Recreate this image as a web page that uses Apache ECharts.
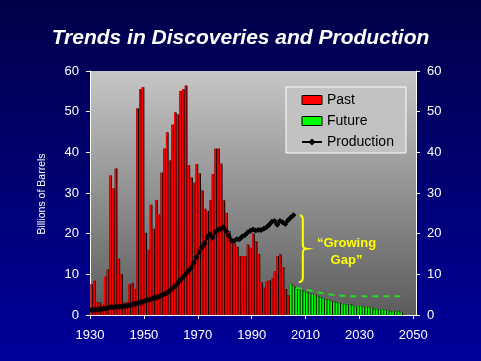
<!DOCTYPE html>
<html><head><meta charset="utf-8">
<script src="https://cdn.jsdelivr.net/npm/echarts@6/dist/echarts.min.js"></script>
<style>html,body{margin:0;padding:0;background:#000070}#c{width:481px;height:361px}</style>
</head><body><div id="c"></div>
<script>
const firstYear = 1930;
const pastValues = [
  7.6, 8.4, 3.1, 3.1, 2.5, 9.4, 11.2, 34.3, 31.1, 36.0,
  13.8, 10.1, 3.0, 3.1, 7.6, 7.9, 6.4, 50.8, 55.5, 56.0,
  20.2, 16.0, 27.1, 21.2, 28.3, 24.7, 35.0, 40.9, 44.9, 38.0,
  46.8, 49.8, 49.3, 55.1, 55.5, 56.4, 36.8, 33.8, 32.5, 37.1,
  34.8, 30.6, 26.1, 25.6, 28.2, 34.6, 40.9, 40.9, 37.2, 28.2,
  25.1, 20.6, 17.9, 17.5, 16.8, 14.5, 14.5, 14.5, 17.3, 16.5,
  20.0, 18.1, 15.0, 8.1, 6.7, 8.2, 8.5, 9.1, 10.7, 14.5,
  14.9, 11.8, 6.4, 4.8
];
const futureStartYear = 2004;
const futureValues = [
  7.6, 7.1, 6.7, 6.3, 6.1, 5.7, 5.6, 5.3, 5.1, 4.9,
  4.6, 4.35, 4.1, 3.9, 3.7, 3.5, 3.3, 3.0, 3.0, 2.7,
  2.6, 2.6, 2.6, 2.3, 2.2, 2.2, 2.2, 2.0, 2.0, 1.8,
  1.8, 1.4, 1.4, 1.4, 1.4, 1.15, 1.15, 0.9, 0.9, 0.9,
  0.9, 0.65
];
const productionValues = [
  1.2, 1.2, 1.3, 1.4, 1.5, 1.6, 1.7, 1.9, 1.9, 2.0,
  2.0, 2.1, 2.1, 2.2, 2.4, 2.5, 2.7, 2.9, 3.1, 3.2,
  3.5, 3.7, 3.9, 4.1, 4.3, 4.5, 4.8, 5.1, 5.4, 5.9,
  6.5, 7.1, 7.8, 8.6, 9.3, 10.0, 10.8, 11.6, 12.8, 14.2,
  15.5, 16.6, 17.6, 19.2, 19.8, 19.0, 20.4, 20.9, 21.2, 21.6,
  20.6, 19.4, 18.4, 18.2, 18.6, 18.6, 19.3, 19.6, 20.3, 20.7,
  21.0, 20.8, 20.9, 20.9, 21.2, 21.6, 22.2, 22.9, 23.1, 22.2,
  23.1, 22.8, 22.4, 23.3, 24.0, 24.5
];
const forecastYears = [2006, 2010, 2014, 2018, 2022, 2026, 2046];
const forecastValues = [6.7, 6.2, 5.6, 5.1, 4.8, 4.6, 4.6];
const xTickLabels = [1930, 1950, 1970, 1990, 2010, 2030, 2050];
const yTickLabels = [0, 10, 20, 30, 40, 50, 60];
const gapLabel = '\u201cGrowing\nGap\u201d';

const pastData = pastValues.map((v, i) => [firstYear + i + 0.5, v]);
const futureData = futureValues.map((v, i) => [futureStartYear + i + 0.5, v]);
const prodData = productionValues.map((v, i) => [firstYear + i + 0.5, v]);
const forecastData = forecastYears.map((y, i) => [y + 0.5, forecastValues[i]]);

const FONT = 'Liberation Sans, Arial, sans-serif';
const chart = echarts.init(document.getElementById('c'), null, {renderer: 'canvas'});

const yAxisCommon = {
  type: 'value', min: yTickLabels[0], max: yTickLabels[yTickLabels.length - 1], interval: 10,
  axisLine: {show: true, lineStyle: {color: '#ffffff', width: 1}},
  axisTick: {show: true, inside: false, length: 4, lineStyle: {color: '#ffffff'}},
  axisLabel: {color: '#ffffff', fontSize: 13, fontFamily: FONT, margin: 11},
  splitLine: {show: false}
};
const outline = {color: '#000000'};
const legendBorder = {borderColor: '#000000', borderWidth: 1};

chart.setOption({
  animation: false,
  backgroundColor: {type: 'linear', x: 0, y: 0, x2: 0, y2: 1,
    colorStops: [{offset: 0, color: '#00004a'}, {offset: 1, color: '#00009c'}]},
  title: {
    text: 'Trends in Discoveries and Production', left: 'center', top: 23,
    textStyle: {color: '#ffffff', fontSize: 21, fontWeight: 'bold', fontStyle: 'italic',
      fontFamily: FONT, textShadowColor: '#000000', textShadowOffsetX: 2, textShadowOffsetY: 2, textShadowBlur: 0}
  },
  grid: {left: 90, right: 65, top: 71, bottom: 46, show: true, borderWidth: 0,
    backgroundColor: {type: 'linear', x: 0, y: 0, x2: 0, y2: 1,
      colorStops: [{offset: 0, color: '#c6c6c6'}, {offset: 1, color: '#5c5c5c'}]}},
  legend: {
    orient: 'vertical', left: 286, top: 87,
    data: [{name: 'Past', icon: 'rect', itemStyle: legendBorder},
           {name: 'Future', icon: 'rect', itemStyle: legendBorder},
           {name: 'Production'}],
    itemWidth: 20, itemHeight: 9, itemGap: 5,
    padding: [5, 12, 3, 15],
    backgroundColor: '#c2c2c2', borderColor: '#ffffff', borderWidth: 1, borderRadius: 0,
    textStyle: {color: '#000000', fontSize: 14, fontFamily: FONT, lineHeight: 16}
  },
  xAxis: {
    type: 'value', min: 1930, max: 2051, interval: 20,
    axisLine: {show: true, onZero: false, lineStyle: {color: '#ffffff', width: 1}},
    axisTick: {show: true, length: 4, lineStyle: {color: '#ffffff'}},
    axisLabel: {color: '#ffffff', fontSize: 13, fontFamily: FONT, margin: 14, showMaxLabel: false,
      formatter: v => xTickLabels.indexOf(v) >= 0 ? String(v) : ''},
    splitLine: {show: false}
  },
  yAxis: [
    Object.assign({position: 'left'}, yAxisCommon),
    Object.assign({position: 'right'}, yAxisCommon)
  ],
  series: [
    {name: 'Past outline', type: 'bar', data: pastData, barWidth: '100%', barGap: '-100%', itemStyle: outline},
    {name: 'Future outline', type: 'bar', data: futureData, barWidth: '100%', barGap: '-100%', itemStyle: outline},
    {name: 'Past', type: 'bar', data: pastData, barWidth: '64%', barGap: '-100%',
      itemStyle: {color: '#ff0000'}},
    {name: 'Future', type: 'bar', data: futureData, barWidth: '64%', barGap: '-100%',
      itemStyle: {color: '#00ff00'}},
    {name: 'Forecast', type: 'line', data: forecastData, symbol: 'none',
      lineStyle: {color: '#22dd22', width: 2, type: [6, 5]}},
    {name: 'Production', type: 'line', data: prodData, symbol: 'diamond', symbolSize: [6, 6],
      itemStyle: {color: '#000000'}, lineStyle: {color: '#000000', width: 2}}
  ]
});

function px(x, y) { return chart.convertToPixel({gridIndex: 0}, [x, y]); }
function quad(p0, c, p1, n, out) {
  for (let i = 1; i <= n; i++) {
    const t = i / n, u = 1 - t;
    out.push([u*u*p0[0] + 2*u*t*c[0] + t*t*p1[0], u*u*p0[1] + 2*u*t*c[1] + t*t*p1[1]]);
  }
}
const lastProd = productionValues[productionValues.length - 1];
const braceTop = px(2009, lastProd);
const braceBot = px(2009, futureValues[0] + 0.5);
const sx = braceTop[0], yt = braceTop[1], yb = braceBot[1], ym = (yt + yb) / 2;
const bracePts = [[sx - 3, yt]];
quad([sx - 3, yt], [sx, yt], [sx, yt + 5], 6, bracePts);
bracePts.push([sx, ym - 4]);
quad([sx, ym - 4], [sx, ym], [sx + 4, ym], 4, bracePts);
quad([sx + 4, ym], [sx, ym], [sx, ym + 4], 4, bracePts);
bracePts.push([sx, yb - 5]);
quad([sx, yb - 5], [sx, yb], [sx - 4, yb], 6, bracePts);
const labelPos = px(2025.2, 15.5);
chart.setOption({
  graphic: [
    {type: 'polyline', shape: {points: bracePts}, style: {stroke: '#ffff00', lineWidth: 2, fill: null}, z: 100},
    {type: 'text', x: labelPos[0], y: labelPos[1], z: 100,
      style: {text: gapLabel, fill: '#ffff00', font: 'bold 13px ' + FONT, align: 'center', verticalAlign: 'middle', lineHeight: 17}},
    {type: 'text', x: 42, y: 194, rotation: Math.PI / 2, z: 100,
      style: {text: 'Billions of Barrels', fill: '#ffffff', font: '10.5px ' + FONT, align: 'center', verticalAlign: 'middle'}}
  ]
});
</script>
</body></html>
